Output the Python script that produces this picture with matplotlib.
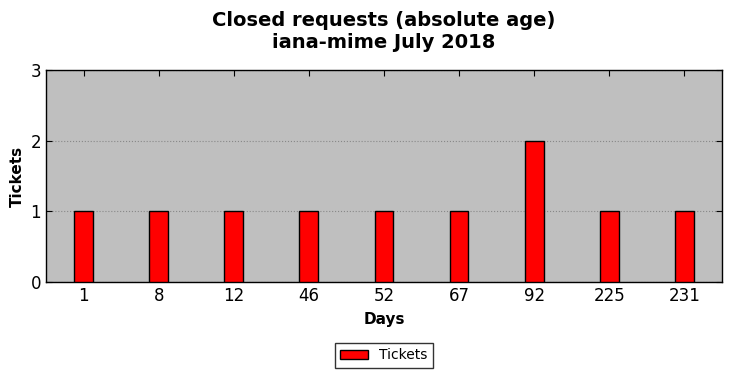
import matplotlib
matplotlib.use("Agg")
import matplotlib.pyplot as plt

days = ["1", "8", "12", "46", "52", "67", "92", "225", "231"]
tickets = [1, 1, 1, 1, 1, 1, 2, 1, 1]

fig = plt.figure(figsize=(7.31, 3.78), dpi=100)
ax = fig.add_axes([0.0629, 0.254, 0.9248, 0.561])
ax.set_facecolor("#bfbfbf")

pos = list(range(len(days)))
ax.bar(pos, tickets, width=0.25, color="red", edgecolor="black", linewidth=1, label="Tickets", zorder=3)

ax.set_xlim(-0.5, len(days) - 0.5)
ax.set_ylim(0, 3)
ax.set_yticks([0, 1, 2, 3])
ax.set_xticks(pos)
ax.set_xticklabels(days)
ax.tick_params(direction="in", top=True, right=True, labelsize=12, length=4)
ax.yaxis.grid(True, linestyle=":", color="#888888", linewidth=0.8, zorder=0)

ax.set_xlabel("Days", fontsize=11, fontweight="bold", labelpad=5.5)
ax.set_ylabel("Tickets", fontsize=11, fontweight="bold")
ax.set_title("Closed requests (absolute age)\niana-mime July 2018", fontsize=14, fontweight="bold", pad=16)

for s in ax.spines.values():
    s.set_linewidth(1)

fig.legend(loc="center", bbox_to_anchor=(0.525, 0.06), fontsize=10, frameon=True,
           fancybox=False, edgecolor="black", handlelength=2)

fig.savefig("out.png", dpi=100)
